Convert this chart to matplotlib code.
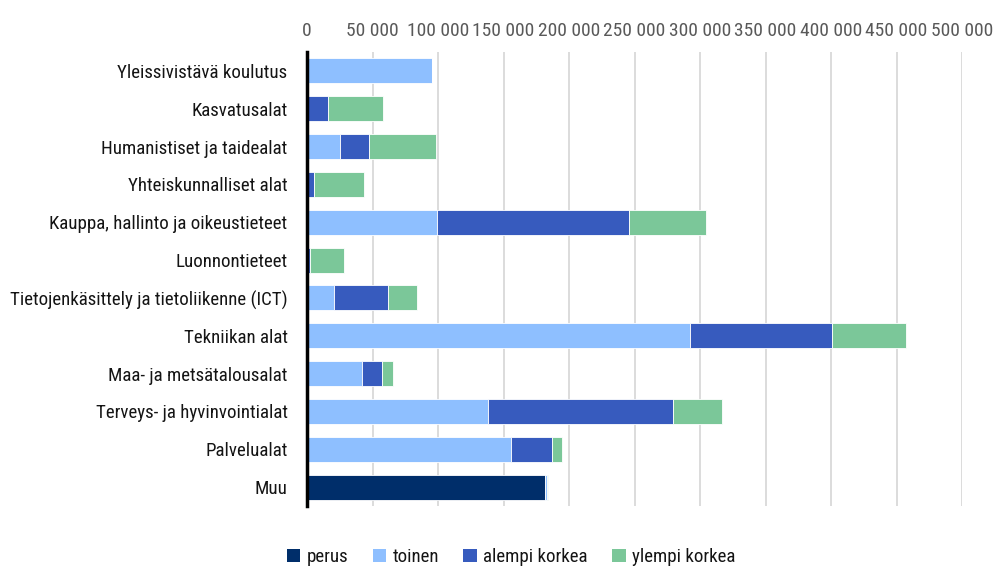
import matplotlib
matplotlib.use("Agg")
import matplotlib.pyplot as plt
import matplotlib.ticker as mticker
from matplotlib.patches import Patch
import numpy as np

plt.rcParams['font.family'] = ['Roboto Condensed', 'PT Sans Narrow', 'Fira Sans Condensed',
                               'IBM Plex Sans Condensed', 'DejaVu Sans']

categories = [
    "Yleissivistävä koulutus",
    "Kasvatusalat",
    "Humanistiset ja taidealat",
    "Yhteiskunnalliset alat",
    "Kauppa, hallinto ja oikeustieteet",
    "Luonnontieteet",
    "Tietojenkäsittely ja tietoliikenne (ICT)",
    "Tekniikan alat",
    "Maa- ja metsätalousalat",
    "Terveys- ja hyvinvointialat",
    "Palvelualat",
    "Muu",
]
series_names = ["perus", "toinen", "alempi korkea", "ylempi korkea"]
perus = [0, 0, 0, 0, 0, 0, 0, 0, 0, 0, 0, 181700]
toinen = [95700, 0, 25300, 0, 99000, 0, 20500, 292500, 42300, 137800, 155500, 1500]
alempi = [0, 16300, 22300, 5600, 146600, 2500, 41000, 108500, 14600, 141500, 31800, 0]
ylempi = [0, 41400, 50700, 37700, 58800, 25700, 22500, 56500, 8700, 37300, 7100, 600]
colors = ["#002E6A", "#8EBFFF", "#375BBE", "#7BC799"]
xticks = [0, 50000, 100000, 150000, 200000, 250000, 300000, 350000, 400000, 450000, 500000]

fig = plt.figure(figsize=(9.94, 5.70), dpi=100)
ax = fig.add_axes([307/994, 1-506/570, (962-307)/994, (506-52)/570])

y = np.arange(len(categories))
left = np.zeros(len(categories))
for vals, col, name in zip([perus, toinen, alempi, ylempi], colors, series_names):
    v = np.array(vals, dtype=float)
    ax.barh(y, v, left=left, height=0.66, color=col, edgecolor='#FFFFFF', linewidth=0.6,
            label=name, zorder=3)
    left += v

ax.set_ylim(len(categories) - 0.5, -0.5)
ax.set_xlim(0, 500000)
ax.set_yticks(y)
ax.set_yticklabels(categories, fontsize=13.6, color='#141414')
ax.set_xticks(xticks)
ax.xaxis.set_major_formatter(mticker.FuncFormatter(lambda v, p: f"{int(v):,}".replace(",", " ")))
ax.xaxis.tick_top()
ax.tick_params(axis='x', labelsize=14, colors='#595959', length=0, pad=9)
ax.tick_params(axis='y', length=0, pad=14)
ax.grid(axis='x', color='#D9D9D9', linewidth=1.3, zorder=0)
for s in ['top', 'right', 'bottom']:
    ax.spines[s].set_visible(False)
ax.spines['left'].set_linewidth(2.5)
ax.spines['left'].set_color('#000000')
ax.spines['left'].set_zorder(5)

handles = [Patch(facecolor=c, edgecolor='none', label=n) for c, n in zip(colors, series_names)]
fig.legend(handles=handles, loc='center', bbox_to_anchor=(511/994, 1-557/570), ncol=4,
           frameon=False, fontsize=13.6, handlelength=0.7, handleheight=0.7,
           handletextpad=0.35, columnspacing=1.3, labelcolor='#141414')

fig.savefig("out.png", dpi=100, facecolor='white')
